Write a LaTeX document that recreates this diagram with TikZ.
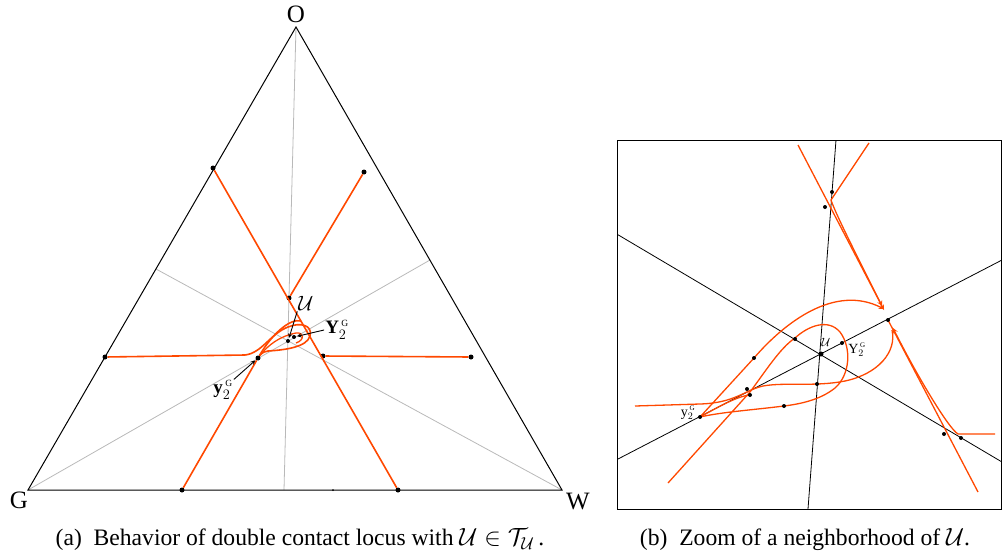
\documentclass[tikz,border=0pt]{standalone}
\usepackage{fontspec}
\setmainfont{Liberation Serif}
\usepackage{amsmath}
\usepackage{amssymb}
\usetikzlibrary{positioning}
\definecolor{locusred}{RGB}{255,72,0}

\begin{document}
\begin{tikzpicture}[x=1pt, y=-1pt, >=stealth,
  side/.style={line width=1pt, black},
  ray/.style={line width=0.8pt, gray!55},
  axis/.style={line width=0.8pt, black},
  curve/.style={line width=1.6pt, locusred},
  thincurve/.style={line width=1.3pt, locusred},
  pt/.style={circle, fill=black, inner sep=0pt, minimum size=5pt},
  spt/.style={circle, fill=black, inner sep=0pt, minimum size=4pt},
  pointer/.style={->, line width=0.9pt, shorten >=1pt},
  vtx/.style={font=\fontsize{25}{25}\selectfont, inner sep=0pt},
  captext/.style={font=\fontsize{23.6}{26}\selectfont}]

  \useasboundingbox (0,0) rectangle (1002,558);

  % Triangle (a)
  \coordinate (O) at (296,27);
  \coordinate (G) at (28,490);
  \coordinate (W) at (562,490);
  \draw[ray] (O) -- (284,490);
  \draw[ray] (G) -- (430,260);
  \draw[ray] (W) -- (156,269);
  \draw[side] (O) -- (G) -- (W) -- cycle;
  \node[vtx] (O_lbl) at (296,14) {O};
  \node[vtx] (G_lbl) at (19,500) {G};
  \node[vtx] (W_lbl) at (578,501) {W};

  % Points of the locus
  \node[pt] (a_ul) at (213,168) {};
  \node[pt] (a_ur) at (364,172) {};
  \node[pt] (a_top) at (289,298) {};
  \node[pt] (a_l) at (105,357) {};
  \node[pt] (a_rr) at (471,357) {};
  \node[pt] (a_y) at (258,358) {};
  \node[pt] (a_r) at (323,356) {};
  \node[pt] (a_bl) at (182,490) {};
  \node[pt] (a_br) at (398,490) {};
  \node[spt] (a_U) at (288,341) {};
  \node[spt] (a_Y) at (294,337) {};
  \node[circle, fill=black, inner sep=0pt, minimum size=2pt] (a_tick) at (333,490) {};

  % Double contact locus
  \draw[curve] (a_ul) -- (a_br);
  \draw[curve] (a_ur) -- (a_top);
  \draw[curve] (a_bl) -- (a_y) .. controls (272,334) and (290,318) .. (301,321);
  \draw[curve] (a_l) -- (245,355) .. controls (262,353) and (270,334) .. (288,327)
    .. controls (300,322) and (313,325) .. (310,336) .. controls (307,347) and (285,350) .. (268,351)
    .. controls (262,352) and (260,355) .. (a_y);
  \draw[thincurve] (a_y) .. controls (268,345) and (280,336) .. (296,333) .. controls (304,332) and (305,340) .. (296,343);
  \draw[curve] (a_r) -- (a_rr);

  % Labels (a)
  \node[font=\fontsize{22}{22}\selectfont, inner sep=1pt] (U_lbl) at (306,303) {$\mathcal{U}$};
  \node[font=\fontsize{19}{19}\selectfont, inner sep=1pt] (Y_lbl) at (337,330) {$\mathbf{Y}_{2}^{\,\scriptscriptstyle\mathrm{G}}$};
  \node[font=\fontsize{19}{19}\selectfont, inner sep=1pt] (y_lbl) at (223,390) {$\mathbf{y}_{2}^{\,\scriptscriptstyle\mathrm{G}}$};
  \draw[pointer] (U_lbl.south west) -- (a_U);
  \draw[pointer] (Y_lbl.west) -- (a_Y);
  \draw[pointer] (y_lbl.north east) -- (a_y);

  % Zoom (b)
  \begin{scope}
    \clip (617,140) rectangle (1001,509);
    \draw[axis] (836,140) -- (808,509);
    \draw[axis] (615,233) -- (1002,462);
    \draw[axis] (618,459) -- (1002,260);

    % top branches
    \draw[thincurve, ->] (798,145) -- (884,310);
    \draw[thincurve, ->] (869,143) -- (831,200) .. controls (836,215) and (860,262) .. (882,306);
    % lower right branches
    \draw[thincurve] (888,320) -- (978,492);
    \draw[thincurve, ->] (995,434) -- (958,434) .. controls (948,428) and (915,372) .. (893,328);
    % outer arc
    \draw[thincurve, ->] (700,417) -- (754,358) .. controls (785,322) and (835,284) .. (884,309);
    % arc under U
    \draw[thincurve] (892,330) .. controls (897,352) and (878,374) .. (845,381)
      .. controls (815,387) and (785,382) .. (763,386) .. controls (745,390) and (735,403) .. (700,404) -- (635,406);
    % inner loop
    \draw[thincurve] (668,483) -- (750,392) .. controls (765,372) and (780,348) .. (795,338)
      .. controls (808,326) and (828,318) .. (840,332) .. controls (852,348) and (850,375) .. (835,388)
      .. controls (820,400) and (800,404) .. (784,406) .. controls (752,410) and (722,412) .. (700,417);
    % lens
    \draw[thincurve] (700,417) .. controls (720,406) and (738,396) .. (750,395);
  \end{scope}
  \draw[side] (617,140) rectangle (1001,509);

  % Points (b)
  \node[spt] (b1) at (832,192) {};
  \node[spt] (b2) at (825,207) {};
  \node[spt] (b3) at (888,320) {};
  \node[spt] (b_Y) at (842,343) {};
  \node[pt] (b_U) at (821,354) {};
  \node[spt] (b4) at (795,339) {};
  \node[spt] (b5) at (754,358) {};
  \node[spt] (b6) at (747,389) {};
  \node[spt] (b7) at (750,395) {};
  \node[spt] (b8) at (817,384) {};
  \node[spt] (b9) at (784,406) {};
  \node[spt] (b_y) at (700,417) {};
  \node[spt] (b10) at (944,434) {};
  \node[spt] (b11) at (961,438) {};

  % Labels (b)
  \node[font=\fontsize{12}{12}\selectfont, inner sep=0pt] (bU_lbl) at (826,342) {$\mathcal{U}$};
  \node[font=\fontsize{14}{14}\selectfont, inner sep=0pt] (bY_lbl) at (857,350) {$\mathrm{Y}_{2}^{\,\scriptscriptstyle\mathrm{G}}$};
  \node[font=\fontsize{14}{14}\selectfont, inner sep=0pt] (by_lbl) at (688,413) {$\mathrm{y}_{2}^{\,\scriptscriptstyle\mathrm{G}}$};

  % Captions
  \node[captext] (cap_a) at (300,540) {(a)\ \ Behavior of double contact locus with $\mathcal{U}\in\mathcal{T}_{\mathcal{U}}$\,.};
  \node[captext] (cap_b) at (805,540) {(b)\ \ Zoom of a neighborhood of $\mathcal{U}$.};

\end{tikzpicture}
\end{document}
